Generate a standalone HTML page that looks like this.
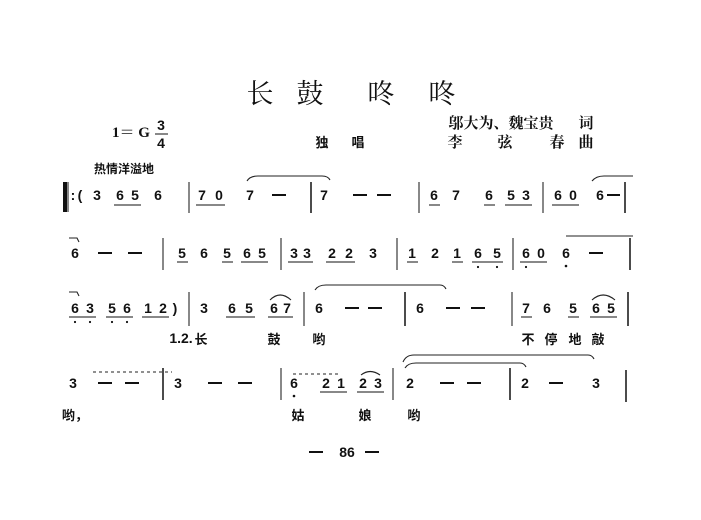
<!DOCTYPE html>
<html><head><meta charset="utf-8"><style>
html,body{margin:0;padding:0;background:#fff;}
svg{display:block;}
.n{font:bold 14px "Liberation Sans",sans-serif;text-anchor:middle;fill:#111;}
.c{font-family:"Liberation Sans","Noto Sans CJK SC",sans-serif;font-weight:bold;fill:#111;text-anchor:middle;}
.t{font-family:"Liberation Serif","Noto Serif CJK SC",serif;fill:#111;text-anchor:middle;}
line{stroke:#111;}
path{fill:none;stroke:#222;stroke-width:1.1;}
</style></head><body>
<svg width="701" height="520" viewBox="0 0 701 520" xmlns="http://www.w3.org/2000/svg">
<!-- title -->
<text class="t" font-size="27" x="260" y="103">长</text>
<text class="t" font-size="27" x="310" y="103">鼓</text>
<text class="t" font-size="27" x="381" y="103">咚</text>
<text class="t" font-size="27" x="442" y="103">咚</text>
<!-- key -->
<text class="t" font-size="15" font-weight="bold" x="131" y="137">1＝ G</text>
<text class="n" x="161" y="130">3</text>
<line x1="155" y1="134" x2="168" y2="134" stroke-width="1"/>
<text class="n" x="161" y="148">4</text>
<text class="t" font-size="15" x="501" y="128" font-weight="bold">邬大为、魏宝贵</text>
<text class="t" font-size="15" x="586" y="128" font-weight="bold">词</text>
<text class="c" font-size="13" x="322" y="147">独</text>
<text class="c" font-size="13" x="358" y="147">唱</text>
<text class="t" font-size="15" font-weight="bold" x="455" y="147">李</text>
<text class="t" font-size="15" font-weight="bold" x="505" y="147">弦</text>
<text class="t" font-size="15" font-weight="bold" x="557" y="147">春</text>
<text class="t" font-size="15" font-weight="bold" x="586" y="147">曲</text>
<text class="c" font-size="12" x="124" y="173">热情洋溢地</text>

<!-- Row 1 -->
<rect x="63" y="182" width="4" height="30" fill="#111"/>
<line x1="68" y1="182" x2="68" y2="212"/>
<text class="n" x="73" y="200">:</text>
<text class="n" x="80" y="200">(</text>
<text class="n" x="97" y="200">3</text>
<text class="n" x="120" y="200">6</text><text class="n" x="135" y="200">5</text>
<line x1="114" y1="205" x2="141" y2="205"/>
<text class="n" x="158" y="200">6</text>
<line x1="189" y1="182" x2="189" y2="213"/>
<text class="n" x="202" y="200">7</text><text class="n" x="219" y="200">0</text>
<line x1="196" y1="205" x2="225" y2="205"/>
<text class="n" x="250" y="200">7</text>
<line x1="272" y1="195" x2="286" y2="195" stroke-width="2"/>
<path d="M247 181 Q250 176 258 176 L322 176 Q328 176 330 180"/>
<line x1="311" y1="182" x2="311" y2="213" stroke-width="1.5"/>
<text class="n" x="324" y="200">7</text>
<line x1="353" y1="195" x2="367" y2="195" stroke-width="2"/>
<line x1="377" y1="195" x2="391" y2="195" stroke-width="2"/>
<line x1="419" y1="182" x2="419" y2="213"/>
<text class="n" x="434" y="200">6</text><line x1="429" y1="205" x2="440" y2="205"/>
<text class="n" x="456" y="200">7</text>
<text class="n" x="489" y="200">6</text><line x1="484" y1="205" x2="495" y2="205"/>
<text class="n" x="511" y="200">5</text><text class="n" x="526" y="200">3</text>
<line x1="505" y1="205" x2="532" y2="205"/>
<line x1="543" y1="182" x2="543" y2="213"/>
<text class="n" x="558" y="200">6</text><text class="n" x="573" y="200">0</text>
<line x1="552" y1="205" x2="579" y2="205"/>
<text class="n" x="600" y="200">6</text>
<line x1="607" y1="195" x2="620" y2="195" stroke-width="2"/>
<path d="M592 181 Q596 176 604 176 L633 176"/>
<line x1="625" y1="182" x2="625" y2="213" stroke-width="1.5"/>

<!-- Row 2 -->
<path d="M69 238 L77 238 L79 242"/>
<text class="n" x="75" y="258">6</text>
<line x1="98" y1="253" x2="112" y2="253" stroke-width="2"/>
<line x1="128" y1="253" x2="142" y2="253" stroke-width="2"/>
<line x1="163" y1="238" x2="163" y2="270"/>
<text class="n" x="182" y="258">5</text><line x1="177" y1="262" x2="188" y2="262"/>
<text class="n" x="204" y="258">6</text>
<text class="n" x="227" y="258">5</text><line x1="222" y1="262" x2="233" y2="262"/>
<text class="n" x="247" y="258">6</text><text class="n" x="262" y="258">5</text>
<line x1="241" y1="262" x2="268" y2="262"/>
<line x1="281" y1="238" x2="281" y2="270"/>
<text class="n" x="294" y="258">3</text><text class="n" x="307" y="258">3</text>
<line x1="288" y1="262" x2="313" y2="262"/>
<text class="n" x="332" y="258">2</text><text class="n" x="349" y="258">2</text>
<line x1="326" y1="262" x2="355" y2="262"/>
<text class="n" x="373" y="258">3</text>
<line x1="397" y1="238" x2="397" y2="270"/>
<text class="n" x="412" y="258">1</text><line x1="407" y1="262" x2="418" y2="262"/>
<text class="n" x="435" y="258">2</text>
<text class="n" x="457" y="258">1</text><line x1="452" y1="262" x2="463" y2="262"/>
<text class="n" x="478" y="258">6</text><text class="n" x="497" y="258">5</text>
<line x1="472" y1="262" x2="503" y2="262"/>
<circle cx="478" cy="267" r="1.1" fill="#111"/><circle cx="497" cy="267" r="1.1" fill="#111"/>
<line x1="513" y1="238" x2="513" y2="270"/>
<text class="n" x="526" y="258">6</text><text class="n" x="541" y="258">0</text>
<line x1="520" y1="262" x2="547" y2="262"/>
<circle cx="526" cy="267" r="1.1" fill="#111"/>
<text class="n" x="566" y="258">6</text><circle cx="566" cy="266" r="1.3" fill="#111"/>
<line x1="589" y1="253" x2="603" y2="253" stroke-width="2"/>
<path d="M566 236 L633 236"/>
<line x1="630" y1="238" x2="630" y2="270" stroke-width="1.5"/>

<!-- Row 3 -->
<path d="M69 292 L77 292 L79 296"/>
<text class="n" x="75" y="313">6</text><text class="n" x="90" y="313">3</text>
<line x1="69" y1="317" x2="96" y2="317"/>
<circle cx="75" cy="322" r="1.1" fill="#111"/><circle cx="90" cy="322" r="1.1" fill="#111"/>
<text class="n" x="112" y="313">5</text><text class="n" x="127" y="313">6</text>
<line x1="106" y1="317" x2="133" y2="317"/>
<circle cx="112" cy="322" r="1.1" fill="#111"/><circle cx="127" cy="322" r="1.1" fill="#111"/>
<text class="n" x="148" y="313">1</text><text class="n" x="163" y="313">2</text>
<text class="n" x="175" y="313">)</text>
<line x1="142" y1="317" x2="169" y2="317"/>
<line x1="189" y1="292" x2="189" y2="326"/>
<text class="n" x="204" y="313">3</text>
<text class="n" x="232" y="313">6</text><text class="n" x="249" y="313">5</text>
<line x1="226" y1="317" x2="255" y2="317"/>
<text class="n" x="274" y="313">6</text><text class="n" x="287" y="313">7</text>
<line x1="268" y1="317" x2="293" y2="317"/>
<path d="M270 300 Q280 290 291 300"/>
<line x1="304" y1="292" x2="304" y2="326"/>
<text class="n" x="319" y="313">6</text>
<line x1="345" y1="308" x2="359" y2="308" stroke-width="2"/>
<line x1="368" y1="308" x2="382" y2="308" stroke-width="2"/>
<path d="M315 290 Q318 285 326 285 L440 285 Q444 285 446 289"/>
<line x1="405" y1="292" x2="405" y2="326" stroke-width="1.5"/>
<text class="n" x="420" y="313">6</text>
<line x1="446" y1="308" x2="460" y2="308" stroke-width="2"/>
<line x1="471" y1="308" x2="485" y2="308" stroke-width="2"/>
<line x1="512" y1="292" x2="512" y2="326"/>
<text class="n" x="526" y="313">7</text><line x1="521" y1="317" x2="532" y2="317"/>
<text class="n" x="547" y="313">6</text>
<text class="n" x="573" y="313">5</text><line x1="568" y1="317" x2="579" y2="317"/>
<text class="n" x="596" y="313">6</text><text class="n" x="611" y="313">5</text>
<line x1="590" y1="317" x2="617" y2="317"/>
<path d="M592 300 Q603 290 615 300"/>
<line x1="628" y1="292" x2="628" y2="326" stroke-width="1.5"/>
<!-- lyrics row 3 -->
<text class="n" font-size="12" x="181" y="343" font-weight="normal">1.2.</text>
<text class="c" font-size="13" x="201" y="344">长</text>
<text class="c" font-size="13" x="274" y="344">鼓</text>
<text class="c" font-size="13" x="319" y="344">哟</text>
<text class="c" font-size="13" x="528" y="344">不</text>
<text class="c" font-size="13" x="551" y="344">停</text>
<text class="c" font-size="13" x="575" y="344">地</text>
<text class="c" font-size="13" x="598" y="344">敲</text>

<!-- Row 4 -->
<path d="M93 372 L172 372" stroke-dasharray="3 3"/>
<text class="n" x="73" y="388">3</text>
<line x1="98" y1="383" x2="112" y2="383" stroke-width="2"/>
<line x1="125" y1="383" x2="139" y2="383" stroke-width="2"/>
<line x1="163" y1="368" x2="163" y2="400" stroke-width="1.5"/>
<text class="n" x="178" y="388">3</text>
<line x1="208" y1="383" x2="222" y2="383" stroke-width="2"/>
<line x1="238" y1="383" x2="252" y2="383" stroke-width="2"/>
<line x1="281" y1="368" x2="281" y2="400"/>
<path d="M293 374 L340 374" stroke-dasharray="3 3"/>
<text class="n" x="294" y="388">6</text><circle cx="294" cy="396" r="1.3" fill="#111"/>
<text class="n" x="326" y="388">2</text><text class="n" x="341" y="388">1</text>
<line x1="320" y1="392" x2="347" y2="392"/>
<text class="n" x="363" y="388">2</text><text class="n" x="378" y="388">3</text>
<line x1="357" y1="392" x2="384" y2="392"/>
<path d="M361 375 Q370 368 380 375"/>
<line x1="393" y1="368" x2="393" y2="400"/>
<path d="M403 362 Q406 355 414 355 L588 355 Q592 355 594 359"/>
<path d="M405 368 Q408 363 416 363 L520 363 Q524 363 526 367"/>
<text class="n" x="410" y="388">2</text>
<line x1="440" y1="383" x2="454" y2="383" stroke-width="2"/>
<line x1="467" y1="383" x2="481" y2="383" stroke-width="2"/>
<line x1="510" y1="368" x2="510" y2="400" stroke-width="1.5"/>
<text class="n" x="525" y="388">2</text>
<line x1="549" y1="383" x2="563" y2="383" stroke-width="2"/>
<text class="n" x="596" y="388">3</text>
<line x1="626" y1="370" x2="626" y2="402" stroke-width="1.5"/>
<!-- lyrics row 4 -->
<text class="c" font-size="13" x="75" y="420">哟，</text>
<text class="c" font-size="13" x="298" y="420">姑</text>
<text class="c" font-size="13" x="365" y="420">娘</text>
<text class="c" font-size="13" x="414" y="420">哟</text>

<!-- page number -->
<line x1="309" y1="452" x2="323" y2="452" stroke-width="2"/>
<text class="n" font-size="15" font-style="italic" x="347" y="457">86</text>
<line x1="365" y1="452" x2="379" y2="452" stroke-width="2"/>
</svg>
</body></html>
